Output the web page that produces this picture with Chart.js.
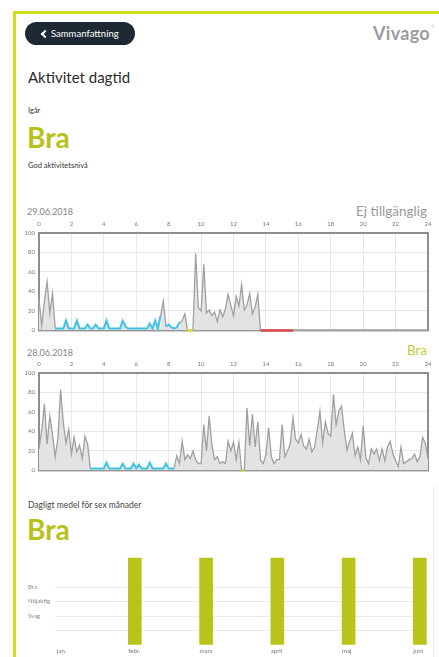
<!DOCTYPE html>
<html lang="sv">
<head>
<meta charset="utf-8">
<title>Aktivitet dagtid</title>
<script src="https://cdn.jsdelivr.net/npm/chart.js@4.4.0/dist/chart.umd.min.js"></script>
<style>
  html, body { margin: 0; padding: 0; background: #fff; }
  body { width: 439px; height: 657px; position: relative; overflow: hidden; font-family: Lato, "Open Sans", sans-serif; color: #333; }
  .abs { position: absolute; white-space: nowrap; line-height: 1; }
  .frame-top { position: absolute; left: 13px; top: 11px; width: 426px; height: 3px; background: #d3df1d; }
  .frame-left { position: absolute; left: 13px; top: 11px; width: 3px; height: 646px; background: #d3df1d; }
  .card-edge { position: absolute; left: 433px; top: 486px; width: 1px; height: 171px; background: #eeeeee; }
  .btn { position: absolute; left: 25px; top: 22px; width: 110px; height: 23px; border-radius: 12px; background: #1e2935; }
  .btn .chev { position: absolute; left: 17px; top: 9px; width: 4px; height: 4px; border-left: 2px solid #fff; border-bottom: 2px solid #fff; transform: rotate(45deg); }
  .btn .txt { position: absolute; left: 26px; top: 7px; color: #fff; font-size: 9.5px; line-height: 1; }
  .logo { right: 9px; top: 24px; font-size: 18px; font-weight: 700; color: #9c9c9c; letter-spacing: 0.3px; }
  .reg { left: 431px; top: 25px; font-size: 4px; color: #aaa; }
  .title { left: 28px; top: 70px; font-size: 15px; color: #2a2a2a; }
  .small { left: 28px; font-size: 7.5px; color: #333; }
  .big { left: 27px; font-size: 28px; font-weight: 700; color: #b6c21a; }
  .date { left: 27px; font-size: 9px; color: #858585; }
  .status { right: 12px; font-size: 13.5px; }
  canvas { position: absolute; }
</style>
</head>
<body>
<div class="frame-top"></div>
<div class="frame-left"></div>
<div class="card-edge"></div>

<div class="btn"><span class="chev"></span><span class="txt">Sammanfattning</span></div>
<div class="abs logo">Vivago</div>
<div class="abs reg">®</div>

<div class="abs title">Aktivitet dagtid</div>
<div class="abs small" style="top:107px">Igår</div>
<div class="abs big" style="top:123px">Bra</div>
<div class="abs small" style="top:162px">God aktivitetsnivå</div>

<div class="abs date" style="top:207px">29.06.2018</div>
<div class="abs status" style="top:205px; color:#9a9a9a">Ej tillgänglig</div>
<canvas id="day1Chart" width="439" height="122" style="left:0; top:216px"></canvas>

<div class="abs date" style="top:348px">28.06.2018</div>
<div class="abs status" style="top:344px; color:#c4cd3a">Bra</div>
<canvas id="day2Chart" width="439" height="122" style="left:0; top:356px"></canvas>

<div class="abs small" style="top:501px; font-size:8.5px; color:#444">Dagligt medel för sex månader</div>
<div class="abs big" style="top:515px">Bra</div>
<canvas id="monthChart" width="411" height="107" style="left:28px; top:550px"></canvas>

<script>
// --- DATA ---

// 10-minute samples from 00:00 to 24:00 (145 points)
const timeSteps = [];
for (let i = 0; i <= 144; i++) timeSteps.push(i / 6);

// 29.06.2018 activity level, one row per hour
const day1Values = [
  32, 5, 30, 50, 18, 38,
  2, 2, 2, 2, 10, 2,
  2, 2, 10, 2, 2, 2,
  6, 2, 2, 6, 2, 2,
  2, 10, 2, 2, 2, 2,
  2, 10, 4, 2, 2, 2,
  2, 2, 2, 2, 2, 7,
  2, 10, 2, 15, 30, 4,
  6, 3, 2, 3, 8, 10,
  17, 0, 0, 0, 79, 23,
  20, 68, 18, 21, 15, 19,
  9, 21, 14, 22, 37, 26,
  15, 35, 25, 47, 21, 26,
  38, 17, 24, 37, 0, 0,
  0, 0, 0, 0, 0, 0,
  0, 0, 0, 0, 0, 0,
  0, 0, 0, 0, 0, 0,
  0, 0, 0, 0, 0, 0,
  0, 0, 0, 0, 0, 0,
  0, 0, 0, 0, 0, 0,
  0, 0, 0, 0, 0, 0,
  0, 0, 0, 0, 0, 0,
  0, 0, 0, 0, 0, 0,
  0, 0, 0, 0, 0, 0,
  0
];
// state of each 10-minute segment: g = aktiv, c = vila, y = gul, r = röd
const day1States = [
  'gggggg', 'cccccc', 'cccccc', 'cccccc', 'cccccc', 'cccccc',
  'cccccc', 'cccggc', 'ccccgg', 'gyyggg', 'gggggg', 'gggggg',
  'gggggg', 'ggggrr', 'rrrrrr', 'rrrrgg', 'gggggg', 'gggggg',
  'gggggg', 'gggggg', 'gggggg', 'gggggg', 'gggggg', 'gggggg'
].join('');

// 28.06.2018
const day2Values = [
  22, 41, 68, 27, 56, 37,
  14, 33, 83, 49, 28, 42,
  17, 34, 19, 26, 12, 35,
  27, 2, 2, 2, 2, 2,
  2, 8, 2, 2, 2, 2,
  2, 7, 2, 2, 2, 7,
  2, 6, 2, 2, 2, 8,
  2, 2, 2, 2, 2, 7,
  2, 2, 2, 15, 7, 30,
  11, 16, 12, 20, 11, 7,
  7, 47, 20, 56, 26, 11,
  14, 7, 9, 7, 30, 20,
  29, 11, 29, 0, 0, 64,
  25, 58, 24, 50, 11, 7,
  16, 44, 14, 7, 11, 11,
  47, 14, 20, 27, 54, 32,
  28, 37, 25, 22, 32, 19,
  24, 41, 61, 28, 50, 38,
  35, 78, 47, 61, 66, 41,
  21, 30, 38, 15, 24, 11,
  46, 13, 7, 22, 17, 22,
  10, 22, 10, 24, 30, 17,
  10, 4, 24, 7, 9, 11,
  12, 17, 9, 14, 34, 28,
  12
];
const day2States = [
  'gggggg', 'gggggg', 'gggggg', 'gccccc', 'cccccc', 'cccccc',
  'cccccc', 'cccccc', 'ccgggg', 'gggggg', 'gggggg', 'gggggg',
  'gggygg', 'gggggg', 'gggggg', 'gggggg', 'gggggg', 'gggggg',
  'gggggg', 'gggggg', 'gggggg', 'gggggg', 'gggggg', 'gggggg'
].join('');

// six-month daily average
const months = ['jan.', 'febr.', 'mars', 'april', 'maj', 'juni'];
const monthLevels = [null, 6, 6, 6, 6, 6];
const levelNames = { 2: 'Svag', 3: 'Nöjaktig', 4: 'Bra' };

// --- STYLES ---
const stateColors = { g: '#a0a0a0', c: '#3fc4e6', y: '#e4e020', r: '#e0474c' };
const stateWidths = { g: 1.3, c: 2, y: 2.5, r: 2.5 };
const tickFont = { family: 'Lato', size: 6 };

// frame around the plot area
const plotFrame = {
  id: 'plotFrame',
  beforeDatasetsDraw(chart, args, opts) {
    const a = chart.chartArea;
    const c = chart.ctx;
    c.save();
    c.strokeStyle = opts.color;
    c.lineWidth = opts.width;
    c.strokeRect(a.left, a.top, a.right - a.left, a.bottom - a.top);
    c.restore();
  }
};

function makeDayChart(canvasId, values, states) {
  const ctx = document.getElementById(canvasId).getContext('2d');
  return new Chart(ctx, {
    type: 'line',
    data: {
      labels: timeSteps,
      datasets: [{
        data: values,
        borderColor: stateColors.g,
        borderWidth: 1.3,
        backgroundColor: '#e3e3e3',
        fill: 'origin',
        pointRadius: 0,
        tension: 0,
        clip: false,
        segment: {
          borderColor: c => stateColors[states[c.p0DataIndex]],
          borderWidth: c => stateWidths[states[c.p0DataIndex]]
        }
      }]
    },
    options: {
      responsive: false,
      animation: false,
      layout: { padding: { left: 0, right: 11, top: 0, bottom: 6 } },
      plugins: {
        legend: { display: false },
        tooltip: { enabled: false },
        plotFrame: { color: '#8d8d8d', width: 2 }
      },
      scales: {
        x: {
          type: 'linear', position: 'top', min: 0, max: 24,
          ticks: { stepSize: 2, font: tickFont, color: '#777', padding: 5, maxRotation: 0, autoSkip: false },
          grid: { color: '#e8e8e8', drawTicks: false },
          border: { display: false },
          afterFit: s => { s.height = 17; }
        },
        y: {
          min: 0, max: 100,
          ticks: { stepSize: 20, font: tickFont, color: '#777', padding: 4 },
          grid: { color: '#e8e8e8', drawTicks: false },
          border: { display: false },
          afterFit: s => { s.width = 39; }
        }
      }
    },
    plugins: [plotFrame]
  });
}

makeDayChart('day1Chart', day1Values, day1States);
makeDayChart('day2Chart', day2Values, day2States);

// --- MONTH BARS ---
new Chart(document.getElementById('monthChart').getContext('2d'), {
  type: 'bar',
  data: {
    datasets: [{
      data: months.map((m, i) => ({ x: i, y: monthLevels[i] })),
      backgroundColor: '#b8c41a',
      barThickness: 13,
      clip: false
    }]
  },
  options: {
    responsive: false,
    animation: false,
    layout: { padding: { left: 0, right: 12, top: 8, bottom: 0 } },
    plugins: { legend: { display: false }, tooltip: { enabled: false } },
    scales: {
      x: {
        type: 'linear', min: -0.12, max: 5.1, offset: false,
        ticks: {
          stepSize: 1, includeBounds: false, align: 'start', labelOffset: -6.5,
          autoSkip: false, maxRotation: 0, padding: 2,
          font: tickFont, color: '#777',
          callback: v => months[Math.round(v)] ?? ''
        },
        grid: { display: false, drawTicks: false },
        border: { display: false },
        afterFit: s => { s.height = 12; }
      },
      y: {
        min: 0, max: 6,
        ticks: {
          stepSize: 1, crossAlign: 'far', padding: 2,
          font: tickFont, color: '#888',
          callback: v => levelNames[v] || ''
        },
        grid: {
          drawTicks: false,
          color: c => (c.tick.value >= 1 && c.tick.value <= 4) ? '#ececec' : 'rgba(0,0,0,0)'
        },
        border: { display: false },
        afterFit: s => { s.width = 27; }
      }
    }
  }
});
</script>
</body>
</html>
